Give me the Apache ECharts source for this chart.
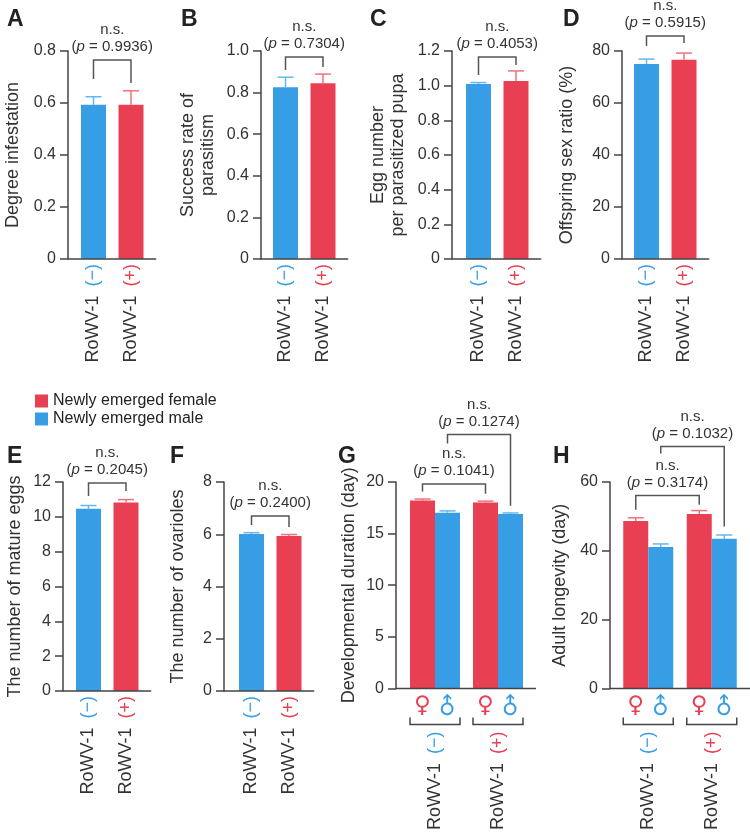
<!DOCTYPE html>
<html><head><meta charset="utf-8">
<script src="https://cdn.jsdelivr.net/npm/echarts@6/dist/echarts.min.js"></script>
<style>html,body{margin:0;padding:0;background:#fff}#c{width:750px;height:833px}</style>
</head><body><div id="c"></div>
<script>
// ---------------- DATA ----------------
const groupCats = ['(−)', '(+)'];
const sexNames = ['Newly emerged female', 'Newly emerged male'];
const sexSymbols = ['♀', '♂'];

// A–F: [RoWV-1 (−), RoWV-1 (+)]  mean and SEM
const aMean = [0.593, 0.593], aSem = [0.031, 0.054];
const bMean = [0.826, 0.845], bSem = [0.048, 0.044];
const cMean = [1.010, 1.027], cSem = [0.008, 0.058];
const dMean = [75.0, 76.6],   dSem = [1.9, 2.6];
const eMean = [10.46, 10.82], eSem = [0.19, 0.17];
const fMean = [6.01, 5.93],   fSem = [0.05, 0.06];
// G, H: female / male per group
const gFemale = [18.20, 18.02], gFemaleSem = [0.15, 0.13];
const gMale   = [17.03, 16.90], gMaleSem   = [0.17, 0.10];
const hFemale = [48.7, 50.7],   hFemaleSem = [0.9, 1.0];
const hMale   = [41.1, 43.5],   hMaleSem   = [0.9, 1.1];

// y axis ranges
const yMax      = [0.8, 1.0, 1.2, 80, 12, 8, 20, 60];
const yInterval = [0.2, 0.2, 0.2, 20, 2, 2, 5, 20];
const yDecimals = [1, 1, 1, 0, 0, 0, 0, 0];
const yNames = ['Degree infestation', 'Success rate of\nparasitism', 'Egg number\nper parasitized pupa',
  'Offspring sex ratio (%)', 'The number of mature eggs', 'The number of ovarioles',
  'Developmental duration (day)', 'Adult longevity (day)'];
const letters = ['A','B','C','D','E','F','G','H'];

// significance brackets: [catA, sexA, catB, sexB, top, legA end, legB end, p]
// sex: -1 none (single bar), 0 female, 1 male
const sigA = [[0,-1,1,-1, 0.765, 0.692, 0.677, '0.9936']];
const sigB = [[0,-1,1,-1, 0.971, 0.909, 0.923, '0.7304']];
const sigC = [[0,-1,1,-1, 1.165, 1.062, 1.119, '0.4053']];
const sigD = [[0,-1,1,-1, 85.8, 81.9, 83.1, '0.5915']];
const sigE = [[0,-1,1,-1, 11.94, 11.20, 11.48, '0.2045']];
const sigF = [[0,-1,1,-1, 6.70, 6.35, 6.28, '0.2400']];
const sigG = [[0,0,1,0, 19.81, 19.07, 18.85, '0.1041'], [0,1,1,1, 24.59, 23.73, 17.70, '0.1274']];
const sigH = [[0,0,1,0, 56.06, 51.96, 53.40, '0.3174'], [0,1,1,1, 70.33, 68.30, 47.08, '0.1032']];

// ---------------- STYLE / LAYOUT ----------------
const BLUE = '#379ee6', RED = '#e83f53';
const BLUE_ERR = '#64b7f0', RED_ERR = '#f0717f';
const AX = '#444', TXT = '#333';
const FONT = '"Liberation Sans", Arial, Helvetica, sans-serif';
const BAR_W = 25;
// per panel: y-axis x, grid left, grid width, grid top, grid bottom, nameGap, label margin, letter pos
const L = [
  {ax:68,  gl:74.75,  gw:75,  top:51,  bot:259, ng:45, lm:5,  lx:2,   ly:3},
  {ax:261, gl:266.75, gw:75,  top:51,  bot:259, ng:43, lm:5,  lx:176, ly:3},
  {ax:452, gl:459.75, gw:75,  top:51,  bot:259, ng:44, lm:5,  lx:365, ly:3},
  {ax:622, gl:627.75, gw:75,  top:51,  bot:259, ng:45, lm:5,  lx:558, ly:3},
  {ax:63,  gl:69.75,  gw:75,  top:482, bot:691, ng:38, lm:5,  lx:2,   ly:440},
  {ax:224, gl:232.75, gw:75,  top:482, bot:691, ng:36, lm:5,  lx:165, ly:440},
  {ax:396, gl:403.5,  gw:126, top:482, bot:691, ng:37, lm:43, lx:333, ly:440},
  {ax:610, gl:616.5,  gw:127, top:482, bot:691, ng:40, lm:43, lx:548, ly:440}
];

const singles = [[aMean,aSem],[bMean,bSem],[cMean,cSem],[dMean,dSem],[eMean,eSem],[fMean,fSem]];
const pairs = [[gFemale,gFemaleSem,gMale,gMaleSem],[hFemale,hFemaleSem,hMale,hMaleSem]];
const sigs = [sigA,sigB,sigC,sigD,sigE,sigF,sigG,sigH];

const grids=[], xAxes=[], yAxes=[], series=[], titles=[];

function sexOffset(sex){ return sex < 0 ? 0 : (sex === 0 ? -BAR_W/2 : BAR_W/2); }

for (let gi = 0; gi < 8; gi++) {
  const l = L[gi];
  grids.push({left:l.gl, top:l.top, width:l.gw, height:l.bot - l.top});
  xAxes.push({
    type:'category', gridIndex:gi, data:groupCats,
    axisLine:{show:false}, axisTick:{show:false}, splitLine:{show:false},
    axisLabel:{
      interval:0, rotate:90, margin:l.lm,
      formatter:(v, i) => '{t|RoWV-1}{' + (i === 0 ? 'm' : 'p') + '|' + v + '}',
      rich:{
        t:{fontSize:18, color:TXT, fontFamily:FONT, padding:[0,9,0,0]},
        m:{fontSize:18, color:BLUE, fontFamily:FONT},
        p:{fontSize:18, color:RED, fontFamily:FONT}
      }
    }
  });
  const dec = yDecimals[gi];
  yAxes.push({
    type:'value', gridIndex:gi, min:0, max:yMax[gi], interval:yInterval[gi],
    offset:l.gl - l.ax,
    name:yNames[gi], nameLocation:'middle', nameGap:l.ng,
    nameTextStyle:{fontSize:18, color:TXT, fontFamily:FONT, lineHeight:20},
    axisLine:{show:true, lineStyle:{color:AX, width:1.5}},
    axisTick:{show:true, length:8, lineStyle:{color:AX, width:1.5}},
    axisLabel:{fontSize:16, color:TXT, fontFamily:FONT, margin:12,
      formatter:v => v === 0 ? '0' : v.toFixed(dec)},
    splitLine:{show:false}
  });
  titles.push({text:letters[gi], left:l.lx, top:l.ly,
    textStyle:{fontSize:23, fontWeight:'bold', color:'#222', fontFamily:FONT}});

  // baseline (x axis line) from y axis to a bit past the last bar
  series.push({
    type:'custom', xAxisIndex:gi, yAxisIndex:gi, data:[[0,0]], silent:true, clip:false, z:4,
    renderItem:(params, api) => {
      const cs = params.coordSys;
      const y = api.coord([0, 0])[1];
      return {type:'line', shape:{x1:l.ax, y1:y, x2:cs.x + cs.width + 6.5, y2:y},
        style:{stroke:AX, lineWidth:1.5}};
    }
  });

  const errItem = (sexOff, col) => (params, api) => {
    const x = api.coord([api.value(0), 0])[0] + sexOff;
    const y0 = api.coord([api.value(0), api.value(1)])[1];
    const y1 = api.coord([api.value(0), api.value(1) + api.value(2)])[1];
    return {type:'group', children:[
      {type:'line', shape:{x1:x, y1:y0, x2:x, y2:y1}, style:{stroke:col(params.dataIndex), lineWidth:1.5}},
      {type:'line', shape:{x1:x-8, y1:y1, x2:x+8, y2:y1}, style:{stroke:col(params.dataIndex), lineWidth:1.5}}
    ]};
  };

  if (gi < 6) {
    const [mean, sem] = singles[gi];
    series.push({
      type:'bar', xAxisIndex:gi, yAxisIndex:gi, barWidth:BAR_W, silent:true,
      data:mean.map((m, i) => ({value:m, itemStyle:{color:i === 0 ? BLUE : RED}}))
    });
    series.push({
      type:'custom', xAxisIndex:gi, yAxisIndex:gi, silent:true, clip:false, z:3,
      data:mean.map((m, i) => [i, m, sem[i]]),
      renderItem:errItem(0, i => i === 0 ? BLUE_ERR : RED_ERR)
    });
  } else {
    const [fm, fs, mm, ms] = pairs[gi - 6];
    series.push({type:'bar', name:sexNames[0], xAxisIndex:gi, yAxisIndex:gi, barWidth:BAR_W, barGap:'0%',
      silent:true, itemStyle:{color:RED}, data:fm});
    series.push({type:'bar', name:sexNames[1], xAxisIndex:gi, yAxisIndex:gi, barWidth:BAR_W, barGap:'0%',
      silent:true, itemStyle:{color:BLUE}, data:mm});
    series.push({type:'custom', xAxisIndex:gi, yAxisIndex:gi, silent:true, clip:false, z:3,
      data:fm.map((m, i) => [i, m, fs[i]]), renderItem:errItem(-BAR_W/2, () => RED_ERR)});
    series.push({type:'custom', xAxisIndex:gi, yAxisIndex:gi, silent:true, clip:false, z:3,
      data:mm.map((m, i) => [i, m, ms[i]]), renderItem:errItem(BAR_W/2, () => BLUE_ERR)});
    // sex symbols and group brackets under the axis
    series.push({
      type:'custom', xAxisIndex:gi, yAxisIndex:gi, silent:true, clip:false, z:4,
      data:groupCats.map((c, i) => [i, 0]),
      renderItem:(params, api) => {
        const c = api.coord([api.value(0), 0]);
        const h = BAR_W / 2;
        return {type:'group', children:[
          {type:'text', x:c[0]-h, y:c[1]+18, style:{text:sexSymbols[0], x:0, y:0, fill:RED,
            fontSize:23, fontFamily:'"DejaVu Sans", sans-serif', align:'center', verticalAlign:'middle'}},
          {type:'text', x:c[0]+h+1, y:c[1]+19, rotation:Math.PI/4, style:{text:sexSymbols[1], x:0, y:0, fill:BLUE,
            fontSize:23, fontFamily:'"DejaVu Sans", sans-serif', align:'center', verticalAlign:'middle'}},
          {type:'polyline', shape:{points:[[c[0]-2*h, c[1]+29],[c[0]-2*h, c[1]+36],[c[0]+2*h, c[1]+36],[c[0]+2*h, c[1]+29]]},
            style:{stroke:AX, lineWidth:1.5, fill:null}}
        ]};
      }
    });
  }

  // significance brackets
  const sg = sigs[gi];
  series.push({
    type:'custom', xAxisIndex:gi, yAxisIndex:gi, silent:true, clip:false, z:5,
    data:sg.map(s => [s[0], s[4]]),
    renderItem:(params, api) => {
      const s = sg[params.dataIndex];
      const xa = api.coord([s[0], 0])[0] + sexOffset(s[1]);
      const xb = api.coord([s[2], 0])[0] + sexOffset(s[3]);
      const yt = api.coord([0, s[4]])[1];
      const ya = api.coord([0, s[5]])[1];
      const yb = api.coord([0, s[6]])[1];
      const xm = (xa + xb) / 2;
      return {type:'group', children:[
        {type:'polyline', shape:{points:[[xa, ya],[xa, yt],[xb, yt],[xb, yb]]},
          style:{stroke:'#555', lineWidth:1.5, fill:null}},
        {type:'text', style:{text:'n.s.', x:xm, y:yt-30, fill:TXT, fontSize:15, fontFamily:FONT,
          align:'center', verticalAlign:'middle'}},
        {type:'text', style:{text:'({i|p} = ' + s[7] + ')', x:xm, y:yt-13, fill:TXT, fontSize:15, fontFamily:FONT,
          align:'center', verticalAlign:'middle',
          rich:{i:{fontStyle:'italic', fontSize:15, fontFamily:FONT, fill:TXT}}}}
      ]};
    }
  });
}

const chart = echarts.init(document.getElementById('c'), null, {renderer:'canvas'});
chart.setOption({
  animation:false,
  backgroundColor:'#fff',
  title:titles,
  legend:{data:sexNames, orient:'vertical', left:30, top:388, icon:'rect', itemWidth:13, itemHeight:13,
    itemGap:2, selectedMode:false, textStyle:{fontSize:16, color:'#222', fontFamily:FONT}},
  grid:grids, xAxis:xAxes, yAxis:yAxes, series:series
});
</script></body></html>
